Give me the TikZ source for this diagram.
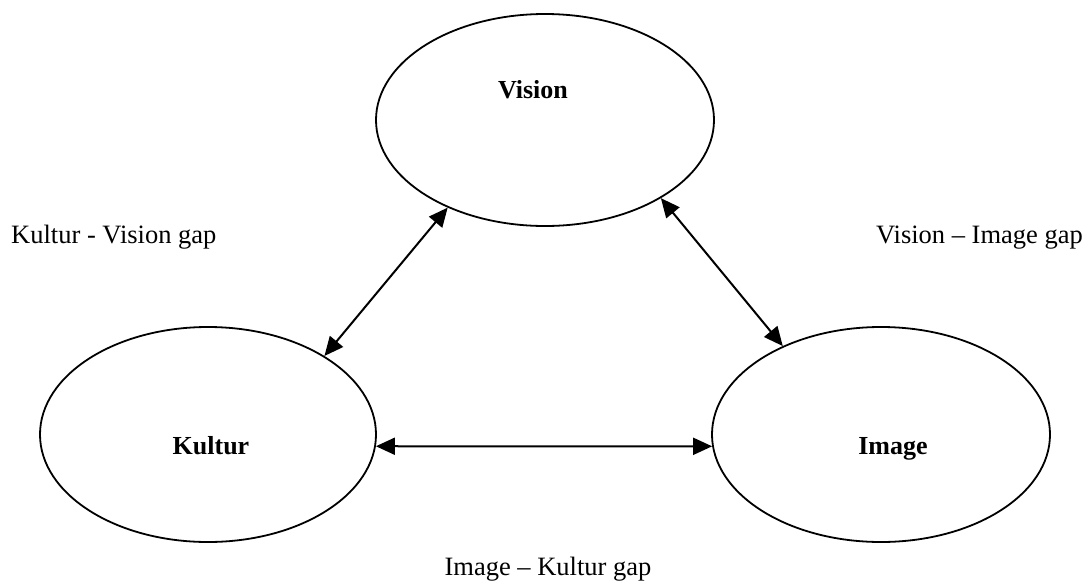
\documentclass[tikz,border=0pt]{standalone}
\usepackage{fontspec}
\setmainfont{Liberation Serif}
\usetikzlibrary{shapes.geometric,arrows.meta}
\begin{document}
\begin{tikzpicture}[x=1pt,y=-1pt,
  gapellipse/.style={draw, ellipse, line width=1.8pt, inner sep=0pt},
  gaplabel/.style={inner sep=0pt, font=\fontsize{26.5}{31}\selectfont},
  titlelabel/.style={inner sep=0pt, font=\fontsize{26}{31}\selectfont\bfseries},
  gaparrow/.style={line width=2pt, {Triangle[length=19pt,width=17pt]}-{Triangle[length=19pt,width=17pt]}}]
\useasboundingbox (0,0) rectangle (1084,581);
\node[gapellipse, minimum width=338pt, minimum height=212pt] (vis) at (545,120) {};
\node[gapellipse, minimum width=336pt, minimum height=215pt] (kul) at (208,434.5) {};
\node[gapellipse, minimum width=338pt, minimum height=215pt] (img) at (881,434.5) {};
\node[titlelabel, anchor=base] (tvis) at (533,98) {Vision};
\node[titlelabel, anchor=base] (tkul) at (211,454) {Kultur};
\node[titlelabel, anchor=base] (timg) at (893,454) {Image};
\node[gaplabel, anchor=base west] (lkv) at (11,243) {Kultur - Vision gap};
\node[gaplabel, anchor=base east] (lvi) at (1083,243) {Vision – Image gap};
\node[gaplabel, anchor=base] (lik) at (548,575) {Image – Kultur gap};
\draw[gaparrow] (kul.34) -- (vis.222);
\draw[gaparrow] (vis.326) -- (img.138);
\draw[gaparrow] (kul.-4) -- (img.184);
\end{tikzpicture}
\end{document}
